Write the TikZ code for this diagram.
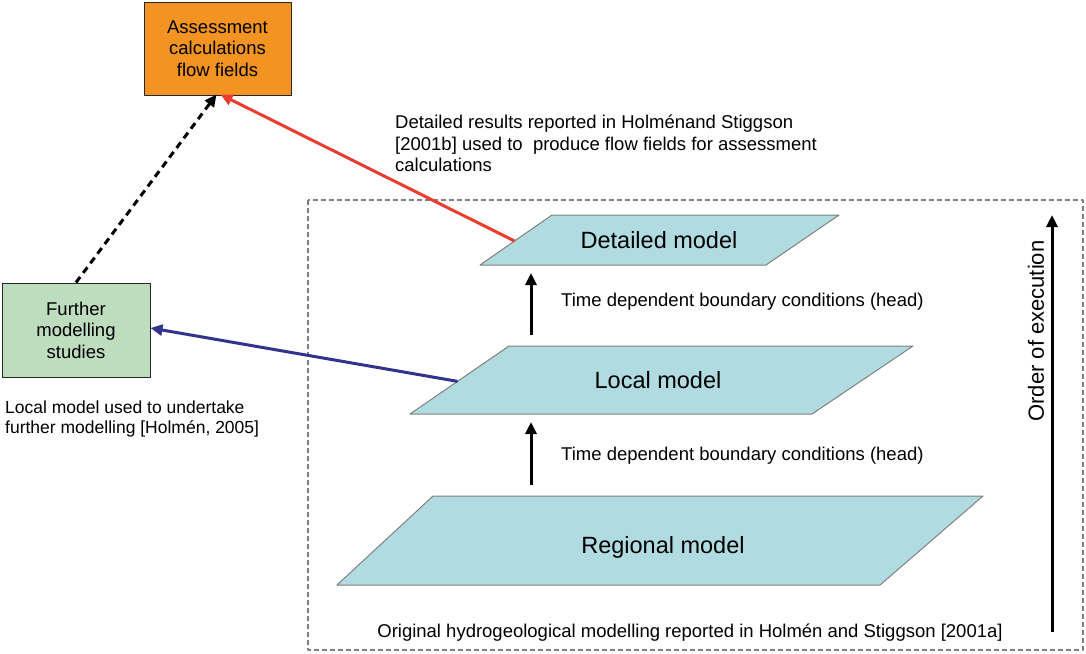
\documentclass[tikz,border=0pt]{standalone}
\usepackage{fontspec}
\setmainfont{Liberation Sans}
\usetikzlibrary{arrows.meta,calc}
\definecolor{assessorange}{HTML}{F39422}
\definecolor{furthergreen}{HTML}{BEDDBF}
\definecolor{modelcyan}{HTML}{B0DCE1}
\definecolor{linkred}{HTML}{EB3D2E}
\definecolor{linkblue}{HTML}{32328F}
\begin{document}
\begin{tikzpicture}[x=1pt, y=-1pt, >={Triangle[length=12pt,width=11pt]}, line join=round,
	font=\fontsize{18.5}{21.5}\selectfont,
	resultbox/.style={draw=black!85, line width=1pt, minimum width=147pt, minimum height=93pt, align=center, inner sep=0pt},
	layer/.style={fill=modelcyan, draw=gray, line width=1pt},
	modelname/.style={font=\fontsize{23.5}{26}\selectfont, inner sep=0pt},
	note/.style={align=left, inner sep=0pt}]
	\useasboundingbox (0,0) rectangle (1086,653);
	% Ergebnis-Kaesten
	\node[resultbox, fill=assessorange] (assess) at (217.5,48.5) {Assessment\\calculations\\flow fields};
	\node[resultbox, fill=furthergreen, minimum width=148pt, minimum height=94pt] (further) at (76,330) {Further\\modelling\\studies};
	\node[note, anchor=north west, font=\fontsize{17.5}{20}\selectfont] (localnote) at (5,401) {Local model used to undertake\\further modelling [Holmén, 2005]};
	\node[note, anchor=north west] (detnote) at (395,115) {Detailed results reported in Holménand Stiggson\\{[2001b]} used to\ \ produce flow fields for assessment\\calculations};
	% Rahmen
	\draw[gray, line width=1.5pt, dash pattern=on 5pt off 3pt] (308,200) rectangle (1083,650);
	% Modelle
	\draw[layer] (552,215) coordinate (dTL) -- (839,215) -- (766,265) -- (480,265) coordinate (dBL) -- cycle;
	\draw[layer] (509,346) coordinate (lTL) -- (913,346) -- (812,414) -- (410,414) coordinate (lBL) -- cycle;
	\draw[layer] (433,496) coordinate (rTL) -- (983,496) -- (880,585) -- (337,585) coordinate (rBL) -- cycle;
	\node[modelname] (detailed) at (659,240) {Detailed model};
	\node[modelname] (local) at (658,380) {Local model};
	\node[modelname] (regional) at (663,547) {Regional model};
	\coordinate (dOut) at ($(dTL)!0.52!(dBL)$);
	\coordinate (lOut) at ($(lTL)!0.52!(lBL)$);
	% Randbedingungen
	\foreach \lo/\hi/\yl in {346/265/302, 496/414/456}{
		\coordinate (lo) at (531,\lo);
		\coordinate (hi) at (531,\hi);
		\draw[->, line width=3pt, shorten <=11pt, shorten >=8pt] (lo) -- (hi);
		\node[anchor=west, inner sep=0pt] (bc\lo) at (561,\yl) {Time dependent boundary conditions (head)};
	}
	\coordinate (ordS) at (1052,632);
	\coordinate (ordE) at (1052,215);
	\draw[->, line width=3pt] (ordS) -- (ordE);
	\node[rotate=90, font=\fontsize{22}{24}\selectfont, inner sep=0pt] (order) at (1036,331) {Order of execution};
	\node[inner sep=0pt] (orignote) at (690,633) {Original hydrogeological modelling reported in Holmén and Stiggson [2001a]};
	% Verbindungen
	\draw[->, linkred, line width=3pt] (dOut) -- ([xshift=3pt,yshift=1pt]assess.south);
	\draw[->, linkblue, line width=3pt] (lOut) -- ([yshift=2pt]further.east);
	\draw[->, line width=3pt, dash pattern=on 7pt off 5pt] (further.north) -- ([xshift=-1pt,yshift=1pt]assess.south);
\end{tikzpicture}
\end{document}
